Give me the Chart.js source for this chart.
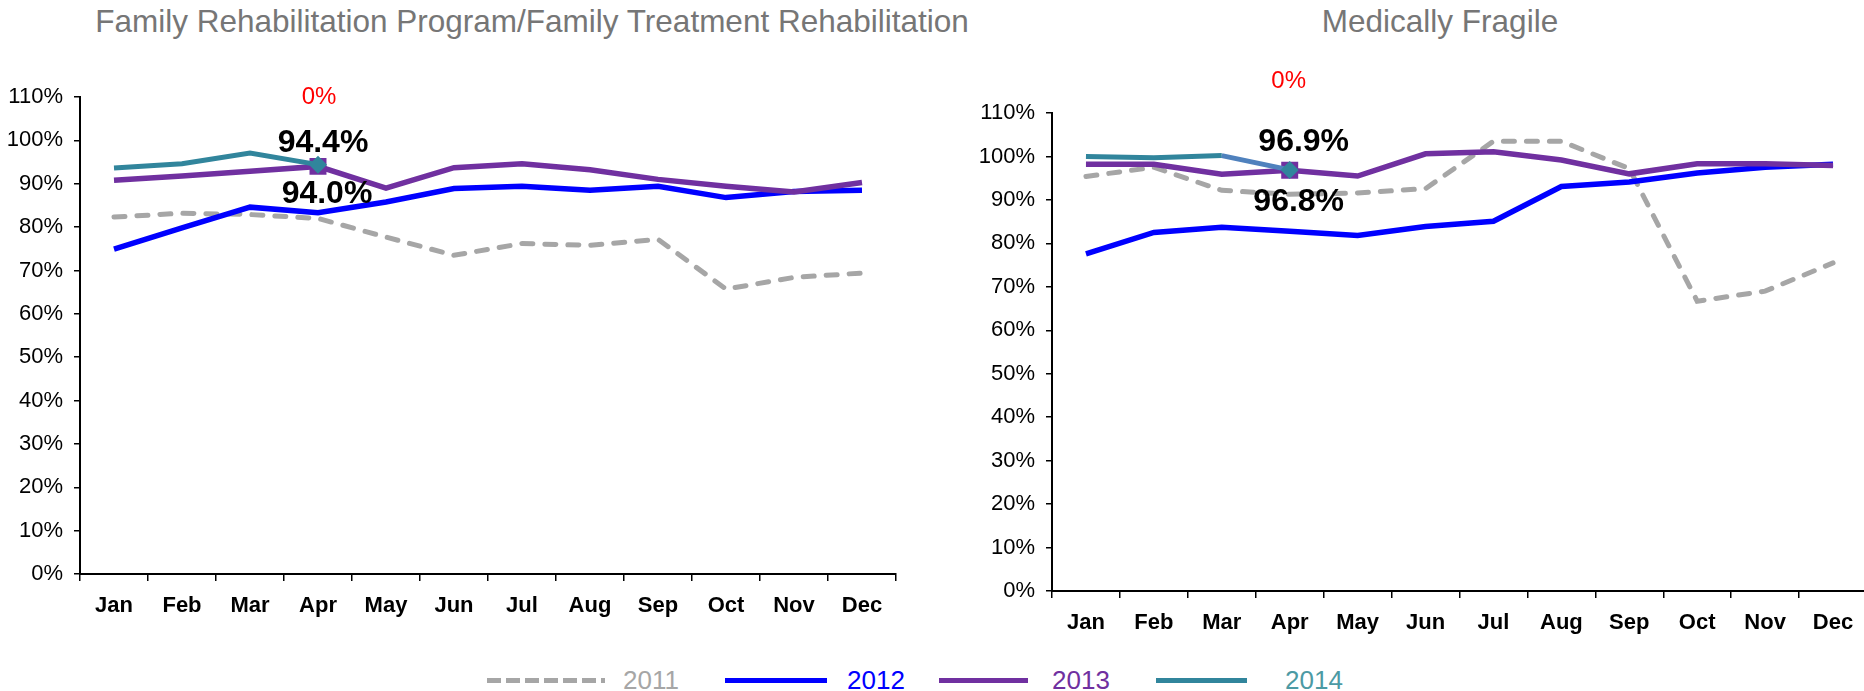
<!DOCTYPE html>
<html>
<head>
<meta charset="utf-8">
<script src="https://cdn.jsdelivr.net/npm/chart.js@4.4.1/dist/chart.umd.min.js"></script>
<style>
	html, body { margin: 0; padding: 0; background: #fff; }
	body { width: 1864px; height: 691px; overflow: hidden; position: relative; font-family: 'Liberation Sans', Arial, sans-serif; }
	.title { position: absolute; top: 4px; height: 34px; line-height: 34px; font-size: 31.5px; color: #767676; text-align: center; white-space: nowrap; }
	canvas { position: absolute; }
	.leg-line { position: absolute; top: 678px; height: 5px; }
	.leg-text { position: absolute; top: 665px; font-size: 26px; line-height: 30px; }
</style>
</head>
<body>
<div class="title" style="left:0;width:1064px;">Family Rehabilitation Program/Family Treatment Rehabilitation</div>
<div class="title" style="left:1240px;width:400px;">Medically Fragile</div>

<canvas id="frpChart" style="left:0;top:0;"></canvas>
<canvas id="mfChart" style="left:940px;top:0;"></canvas>

<div id="legend"></div>

<script>
	// =====================================
	// DATA
	// =====================================

	const months = ['Jan', 'Feb', 'Mar', 'Apr', 'May', 'Jun', 'Jul', 'Aug', 'Sep', 'Oct', 'Nov', 'Dec'];
	const years = ['2011', '2012', '2013', '2014'];

	// Family Rehabilitation Program / Family Treatment Rehabilitation (%)
	const frp2011 = [82.3, 83.2, 82.9, 82.0, 77.7, 73.5, 76.2, 75.8, 77.2, 65.7, 68.4, 69.4];
	const frp2012 = [74.9, 79.8, 84.6, 83.3, 85.8, 88.9, 89.4, 88.5, 89.4, 86.8, 88.2, 88.5];
	const frp2013 = [90.8, 91.8, 92.9, 94.0, 89.0, 93.7, 94.6, 93.2, 91.0, 89.4, 88.1, 90.3];
	const frp2014 = [93.6, 94.6, 97.1, 94.4, null, null, null, null, null, null, null, null];

	// Medically Fragile (%)
	const mf2011 = [95.4, 97.5, 92.2, 91.3, 91.6, 92.6, 103.5, 103.5, 97.2, 66.7, 69.0, 75.5];
	const mf2012 = [77.6, 82.5, 83.7, 82.8, 81.8, 83.9, 85.1, 93.1, 94.1, 96.2, 97.5, 98.2];
	const mf2013 = [98.2, 98.2, 95.9, 96.8, 95.5, 100.6, 101.1, 99.2, 96.0, 98.3, 98.3, 97.9];
	const mf2014 = [100.0, 99.7, 100.2, 96.9, null, null, null, null, null, null, null, null];

	// y axis 0% .. 110%
	const yMin = 0;
	const yMax = 110;
	const yStep = 10;

	const noteText = '0%';
	const labelMonth = 3; // Apr

	// =====================================
	// STYLE
	// =====================================

	const FONT = "'Liberation Sans', Arial, sans-serif";
	const colors = {
		'2011': '#a6a6a6',
		'2012': '#0000ff',
		'2013': '#7030a0',
		'2014': '#31859c',
	};
	const legendTextColors = {
		'2011': '#a6a6a6',
		'2012': '#0000ff',
		'2013': '#7030a0',
		'2014': '#4c9aa4',
	};

	Chart.defaults.font.family = FONT;
	Chart.defaults.color = '#000';

	// labels drawn next to one point + the red note above the month
	const pointLabels = {
		id: 'pointLabels',
		afterDatasetsDraw(chart, args, opts) {
			const { ctx } = chart;
			ctx.save();
			ctx.textAlign = 'center';
			ctx.textBaseline = 'middle';

			chart.data.datasets.forEach((ds, i) => {
				const lab = ds.pointLabel;
				if (!lab) return;
				const pt = chart.getDatasetMeta(i).data[lab.index];
				ctx.font = `bold 32px ${FONT}`;
				ctx.fillStyle = '#000';
				ctx.fillText(`${ds.data[lab.index].toFixed(1)}%`, pt.x + lab.dx, pt.y + lab.dy);
			});

			if (opts.note) {
				const x = chart.scales.x.getPixelForValue(opts.note.index);
				ctx.font = `24px ${FONT}`;
				ctx.fillStyle = '#ff0000';
				ctx.fillText(opts.note.text, x + opts.note.dx, chart.chartArea.top + opts.note.dy);
			}
			ctx.restore();
		},
	};

	const makeDatasets = (d2011, d2012, d2013, d2014, labels, segColor) => [
		{
			label: '2011',
			data: d2011,
			borderColor: colors['2011'],
			borderWidth: 5,
			borderDash: [11, 12],
			borderCapStyle: 'round',
			pointRadius: 0,
			order: 3,
		},
		{
			label: '2012',
			data: d2012,
			borderColor: colors['2012'],
			borderWidth: 5.5,
			pointRadius: 0,
			order: 2,
		},
		{
			label: '2013',
			data: d2013,
			borderColor: colors['2013'],
			borderWidth: 5.5,
			pointStyle: 'rect',
			pointBackgroundColor: colors['2013'],
			pointBorderWidth: 0,
			pointRadius: (ctx) => (ctx.dataIndex === labelMonth ? 12 : 0),
			pointLabel: { index: labelMonth, dx: labels[1][0], dy: labels[1][1] },
			order: 1,
		},
		{
			label: '2014',
			data: d2014,
			borderColor: colors['2014'],
			borderWidth: 5,
			pointStyle: 'rectRot',
			pointBackgroundColor: colors['2014'],
			pointBorderWidth: 0,
			pointRadius: (ctx) => (ctx.dataIndex === labelMonth ? 9 : 0),
			pointLabel: { index: labelMonth, dx: labels[0][0], dy: labels[0][1] },
			segment: segColor ? { borderColor: (ctx) => (ctx.p0DataIndex === 2 ? segColor : undefined) } : {},
			order: 0,
		},
	];

	const makeChart = (canvasId, size, datasets, box, note) => {
		const canvas = document.getElementById(canvasId);
		canvas.width = size.w;
		canvas.height = size.h;
		canvas.style.width = size.w + 'px';
		canvas.style.height = size.h + 'px';

		return new Chart(canvas, {
			type: 'line',
			data: { labels: months, datasets },
			plugins: [pointLabels],
			options: {
				responsive: false,
				animation: false,
				layout: { padding: { top: box.top, right: box.right, bottom: 0, left: 0 } },
				plugins: {
					legend: { display: false },
					tooltip: { enabled: false },
					pointLabels: { note },
				},
				scales: {
					x: {
						offset: true,
						afterFit: (scale) => { scale.height = box.xHeight; },
						grid: { offset: true, drawOnChartArea: false, drawTicks: true, tickLength: 7, color: '#000', lineWidth: 1.5 },
						border: { display: true, color: '#000', width: 2 },
						ticks: { font: { size: 22, weight: 'bold' }, color: '#000', padding: 12, maxRotation: 0, autoSkip: false },
					},
					y: {
						min: yMin,
						max: yMax,
						afterFit: (scale) => { scale.width = box.yWidth; },
						grid: { drawOnChartArea: false, drawTicks: true, tickLength: 6, color: '#000', lineWidth: 1.5 },
						border: { display: true, color: '#000', width: 2 },
						ticks: { stepSize: yStep, font: { size: 22 }, color: '#000', padding: 11, callback: (v) => `${v}%` },
					},
				},
			},
		});
	};

	makeChart(
		'frpChart',
		{ w: 905, h: 640 },
		makeDatasets(frp2011, frp2012, frp2013, frp2014, [[5, -21], [9, 28]], null),
		{ top: 97, right: 9, xHeight: 66, yWidth: 80 },
		{ text: noteText, index: labelMonth, dx: 1, dy: 0 }
	);

	makeChart(
		'mfChart',
		{ w: 930, h: 660 },
		makeDatasets(mf2011, mf2012, mf2013, mf2014, [[14, -28], [9, 32]], '#4f81bd'),
		{ top: 113, right: 3, xHeight: 69, yWidth: 112 },
		{ text: noteText, index: labelMonth, dx: -1, dy: -32 }
	);

	// =====================================
	// SHARED LEGEND
	// =====================================

	const legendSpots = {
		'2011': { line: 487, width: 118, text: 623 },
		'2012': { line: 725, width: 102, text: 847 },
		'2013': { line: 939, width: 89, text: 1052 },
		'2014': { line: 1156, width: 91, text: 1285 },
	};

	const legendEl = document.getElementById('legend');
	years.forEach((y) => {
		const spot = legendSpots[y];
		const line = document.createElement('div');
		line.className = 'leg-line';
		line.style.left = spot.line + 'px';
		line.style.width = spot.width + 'px';
		line.style.background = y === '2011'
			? `repeating-linear-gradient(to right, ${colors[y]} 0 14px, transparent 14px 19px)`
			: colors[y];
		legendEl.appendChild(line);

		const text = document.createElement('div');
		text.className = 'leg-text';
		text.style.left = spot.text + 'px';
		text.style.color = legendTextColors[y];
		text.textContent = y;
		legendEl.appendChild(text);
	});
</script>
</body>
</html>
